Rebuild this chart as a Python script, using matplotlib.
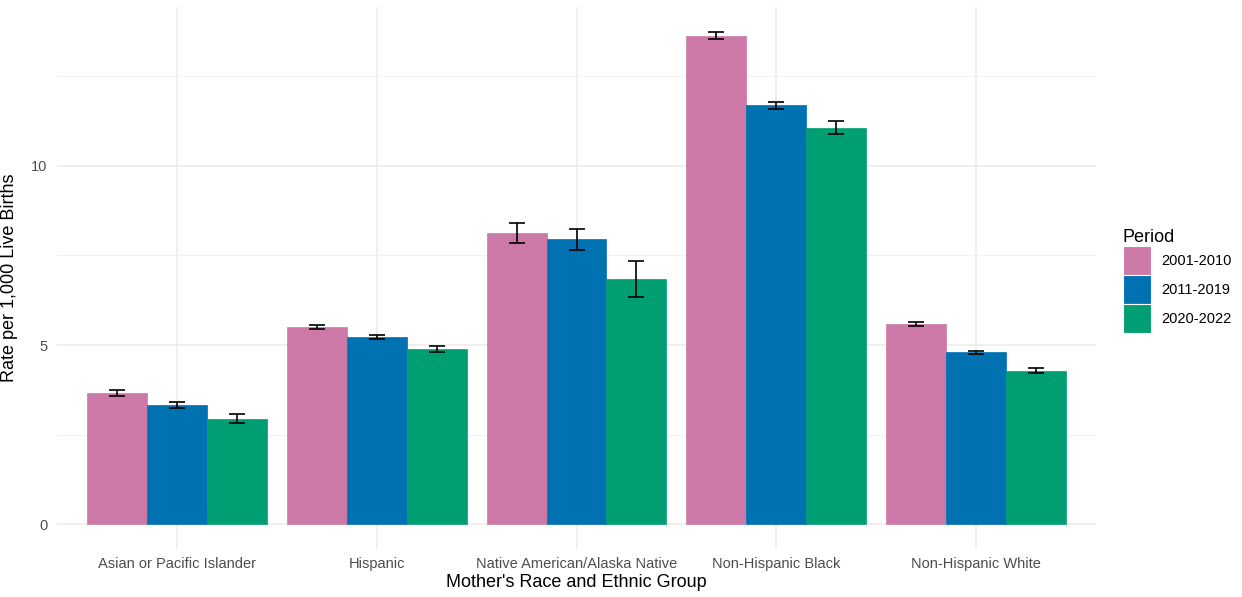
import numpy as np
import matplotlib
matplotlib.use("Agg")
import matplotlib.pyplot as plt
from matplotlib.patches import Patch

plt.rcParams['font.family'] = ['Liberation Sans', 'DejaVu Sans']

groups = ["Asian or Pacific Islander", "Hispanic", "Native American/Alaska Native",
          "Non-Hispanic Black", "Non-Hispanic White"]
periods = ["2001-2010", "2011-2019", "2020-2022"]

rate_2001_2010 = [3.66, 5.50, 8.13, 13.64, 5.59]
rate_2011_2019 = [3.32, 5.23, 7.95, 11.69, 4.80]
rate_2020_2022 = [2.94, 4.89, 6.84, 11.07, 4.28]

err_2001_2010 = [0.08, 0.05, 0.27, 0.10, 0.05]
err_2011_2019 = [0.08, 0.06, 0.29, 0.10, 0.04]
err_2020_2022 = [0.13, 0.09, 0.51, 0.18, 0.07]

colors = ["#CC79A7", "#0072B2", "#009E73"]

rates = [rate_2001_2010, rate_2011_2019, rate_2020_2022]
errs = [err_2001_2010, err_2011_2019, err_2020_2022]

fig = plt.figure(figsize=(12.42, 5.97), dpi=100)
ax = fig.add_axes([57 / 1242, (597 - 548.6) / 597, (1096 - 57) / 1242, (548.6 - 7.4) / 597])

x = np.arange(len(groups))
width = 0.3
for i in range(3):
    pos = x + (i - 1) * width
    ax.bar(pos, rates[i], width=width, color=colors[i], edgecolor=colors[i],
           linewidth=0.5, zorder=2)
    ax.errorbar(pos, rates[i], yerr=errs[i], fmt='none', ecolor='black',
                elinewidth=1.2, capsize=6, capthick=1.2, zorder=3)

ax.set_xlim(-0.6, len(groups) - 1 + 0.6)
ax.set_ylim(-0.687, 14.43)

ax.set_yticks([0, 5, 10])
ax.set_yticks([2.5, 7.5, 12.5], minor=True)
ax.set_xticks(x)
ax.set_xticklabels(groups)

ax.grid(axis='y', which='major', color='#EBEBEB', linewidth=1.1, zorder=0)
ax.grid(axis='y', which='minor', color='#F2F2F2', linewidth=0.8, zorder=0)
ax.grid(axis='x', which='major', color='#EBEBEB', linewidth=1.1, zorder=0)
ax.set_axisbelow(True)

for s in ax.spines.values():
    s.set_visible(False)
ax.tick_params(axis='both', which='both', length=0, labelsize=10.5, labelcolor='#4D4D4D')
ax.tick_params(axis='x', pad=6)
ax.tick_params(axis='y', pad=7)

ax.set_xlabel("Mother's Race and Ethnic Group", fontsize=13, labelpad=2)
ax.set_ylabel("Rate per 1,000 Live Births", fontsize=13)
ax.yaxis.set_label_coords(-0.0375, 0.5)

handles = [Patch(facecolor=c, edgecolor='white', linewidth=0.8) for c in colors]
leg = fig.legend(handles, periods, title="Period", loc='center left',
                 bbox_to_anchor=(1117 / 1242, 1 - 281 / 597), frameon=False,
                 fontsize=10.5, title_fontsize=13, handlelength=1.9, handleheight=2.7,
                 labelspacing=0.0, handletextpad=0.75, borderaxespad=0)
leg._legend_box.align = "left"

fig.savefig("out.png", dpi=100)
